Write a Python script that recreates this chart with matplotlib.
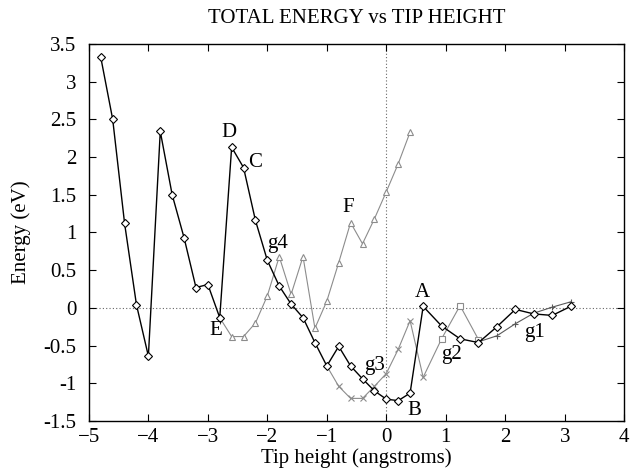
import numpy as np
import matplotlib
matplotlib.use("Agg")
import matplotlib.pyplot as plt

plt.rcParams['font.family'] = ['Liberation Serif', 'DejaVu Serif']

# === main path (black diamonds) ===
main_x = [-4.8, -4.6, -4.4, -4.2, -4.0, -3.8, -3.6, -3.4, -3.2, -3.0, -2.8,
          -2.6, -2.4, -2.2, -2.0, -1.8, -1.6, -1.4, -1.2, -1.0, -0.8, -0.6,
          -0.4, -0.2, 0.0, 0.2, 0.4, 0.62, 0.93, 1.24, 1.55, 1.86, 2.17,
          2.48, 2.79, 3.1]
main_y = [3.32, 2.50, 1.12, 0.04, -0.64, 2.34, 1.50, 0.93, 0.27, 0.31, -0.13,
          2.13, 1.86, 1.16, 0.63, 0.29, 0.05, -0.13, -0.46, -0.77, -0.51, -0.77,
          -0.94, -1.10, -1.21, -1.23, -1.13, 0.02, -0.24, -0.41, -0.46, -0.25,
          -0.02, -0.08, -0.10, 0.02]

# === branch g4 (triangles) ===
g4_x = [-2.8, -2.6, -2.4, -2.2, -2.0, -1.8, -1.6, -1.4, -1.2, -1.0, -0.8,
        -0.6, -0.4, -0.2, 0.0, 0.2, 0.4]
g4_y = [-0.13, -0.38, -0.38, -0.20, 0.16, 0.68, 0.18, 0.68, -0.27, 0.09, 0.60,
        1.13, 0.85, 1.18, 1.54, 1.91, 2.33]

# === branch g3 (crosses) ===
g3_x = [-1.0, -0.8, -0.6, -0.4, -0.2, 0.0, 0.2, 0.4, 0.62]
g3_y = [-0.77, -1.04, -1.20, -1.20, -1.04, -0.87, -0.55, -0.17, -0.92]

# === branch g2 (squares) ===
g2_x = [0.62, 0.93, 1.24, 1.55]
g2_y = [-0.92, -0.41, 0.03, -0.42]

# === branch g1 (plus) ===
g1_x = [1.55, 1.86, 2.17, 2.48, 2.79, 3.1]
g1_y = [-0.45, -0.37, -0.21, -0.07, 0.01, 0.08]

labels = [("D", -2.64, 2.33), ("C", -2.2, 1.93), ("g4", -1.83, 0.86),
          ("F", -0.64, 1.33), ("E", -2.86, -0.3), ("A", 0.61, 0.21),
          ("B", 0.47, -1.36), ("g3", -0.2, -0.77), ("g2", 1.09, -0.62),
          ("g1", 2.5, -0.33)]

fig = plt.figure(figsize=(6.35, 4.72), dpi=100)
ax = fig.add_axes([0.140, 0.108, 0.843, 0.799])

gray = '0.55'
ax.axhline(0, color='0.4', lw=0.8, ls=(0, (1, 2)), zorder=1)
ax.axvline(0, color='0.4', lw=0.8, ls=(0, (1, 2)), zorder=1)

ax.plot(g4_x, g4_y, color=gray, lw=0.8, marker='^', ms=4.5, mfc='white',
        mec=gray, mew=0.8, markevery=list(range(1, len(g4_x))), zorder=2)
ax.plot(g3_x, g3_y, color=gray, lw=0.8, marker='x', ms=5, mec=gray,
        mew=0.8, markevery=list(range(1, len(g3_x))), zorder=2)
ax.plot(g2_x, g2_y, color=gray, lw=0.8, marker='s', ms=4, mfc='white',
        mec=gray, mew=0.8, markevery=list(range(1, len(g2_x))), zorder=2)
ax.plot(g1_x, g1_y, color='0.35', lw=0.8, marker='+', ms=5, mec='0.35',
        mew=0.8, markevery=list(range(1, len(g1_x))), zorder=2)
ax.plot(main_x, main_y, color='black', lw=1.0, marker='D', ms=3.8,
        mfc='white', mec='black', mew=0.8, zorder=3)

for txt, lx, ly in labels:
    ax.text(lx, ly, txt, fontsize=15, ha='center', va='center', zorder=4)

ax.set_xlim(-5, 4)
ax.set_ylim(-1.5, 3.5)
ax.set_xticks(np.arange(-5, 5, 1))
ax.set_yticks(np.arange(-1.5, 3.51, 0.5))
ax.set_yticklabels(['-1.5', '-1', '-0.5', '0', '0.5', '1', '1.5', '2', '2.5', '3', '3.5'])
ax.tick_params(direction='in', top=True, right=True, labelsize=15, length=5)
ax.tick_params(axis='x', pad=5)
ax.tick_params(axis='y', pad=9)
for sp in ax.spines.values():
    sp.set_linewidth(1.0)

ax.set_title("TOTAL ENERGY vs TIP HEIGHT", fontsize=15, pad=15)
ax.set_xlabel("Tip height (angstroms)", fontsize=15, labelpad=1)
ax.set_ylabel("Energy (eV)", fontsize=15, labelpad=9)

fig.savefig("out.png", dpi=100)
